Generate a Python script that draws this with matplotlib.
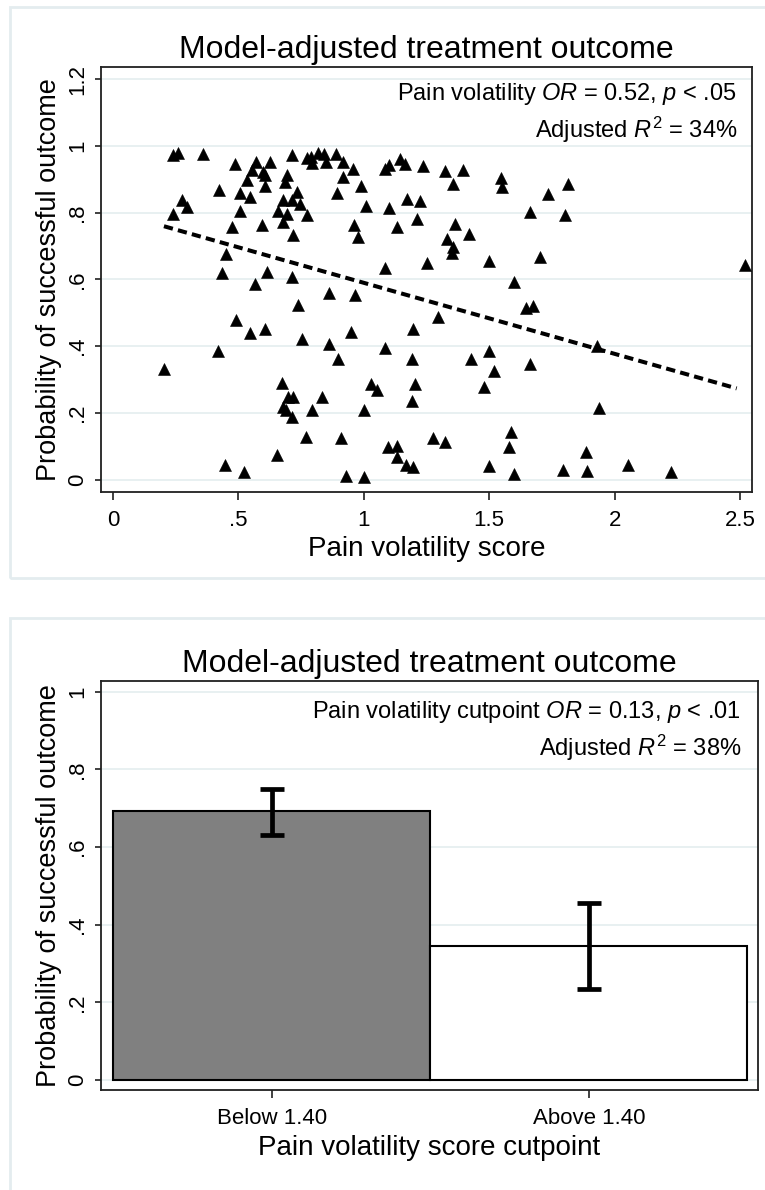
import matplotlib
matplotlib.use('Agg')
import matplotlib.pyplot as plt
from matplotlib.patches import Rectangle

plt.rcParams['font.family'] = ['Liberation Sans', 'DejaVu Sans']
plt.rcParams['mathtext.fontset'] = 'custom'
plt.rcParams['mathtext.rm'] = 'Liberation Sans'
plt.rcParams['mathtext.it'] = 'Liberation Sans:italic'

# ---------------- data ----------------
vol_x = [0.24, 0.26, 0.358, 0.485, 0.57, 0.626, 0.712, 0.772, 0.792, 0.819, 0.553, 0.600, 0.606, 0.533,
         0.693, 0.686, 0.606, 0.424, 0.506, 0.546, 0.732, 0.677, 0.712, 0.746, 0.274, 0.296, 0.238, 0.506,
         0.659, 0.695, 0.775, 0.677, 0.473, 0.593, 0.719, 0.451, 0.433, 0.613, 0.712, 0.566, 0.739,
         0.79, 0.841, 0.849, 0.889, 0.918, 0.956, 0.916, 0.988, 0.894, 1.009, 1.102, 1.171, 1.224, 1.085,
         1.102, 1.144, 1.164, 1.237, 1.324, 1.397, 1.357, 1.546, 1.552, 0.962, 0.976, 1.131, 1.211, 1.364,
         1.419, 1.330, 1.357, 1.350, 1.251, 1.499, 1.085, 1.599, 0.863, 0.965,
         1.816, 1.736, 1.663, 1.802, 1.703, 2.520, 1.645, 1.673,
         0.490, 0.546, 0.606, 0.755, 0.419, 0.203, 0.673, 0.699, 0.719, 0.677, 0.690, 0.712, 0.795, 0.768,
         0.653, 0.445, 0.524,
         1.297, 0.949, 1.197, 0.863, 1.085, 0.896, 1.191, 1.426, 1.499, 1.519, 1.479, 1.027, 1.054, 1.204,
         1.191, 0.835, 1.002, 0.909, 1.098, 1.131, 1.131, 1.168, 1.197, 1.277, 1.324, 1.499, 1.586, 1.579,
         1.600, 0.929, 1.002,
         1.929, 1.663, 1.938, 1.885, 1.795, 1.891, 2.052, 2.225]
prob_y = [0.972, 0.979, 0.975, 0.945, 0.950, 0.952, 0.972, 0.962, 0.947, 0.977, 0.927, 0.922, 0.912, 0.897,
          0.912, 0.892, 0.879, 0.867, 0.859, 0.847, 0.862, 0.837, 0.837, 0.827, 0.837, 0.817, 0.797, 0.804,
          0.804, 0.797, 0.792, 0.772, 0.757, 0.762, 0.732, 0.676, 0.620, 0.622, 0.608, 0.586, 0.523,
          0.967, 0.975, 0.952, 0.975, 0.950, 0.929, 0.905, 0.879, 0.859, 0.819, 0.815, 0.842, 0.835, 0.929,
          0.942, 0.959, 0.945, 0.939, 0.924, 0.927, 0.885, 0.904, 0.877, 0.762, 0.727, 0.757, 0.782, 0.765,
          0.735, 0.720, 0.696, 0.678, 0.650, 0.655, 0.633, 0.593, 0.558, 0.553,
          0.885, 0.857, 0.802, 0.794, 0.667, 0.643, 0.515, 0.520,
          0.478, 0.438, 0.450, 0.420, 0.386, 0.330, 0.290, 0.248, 0.246, 0.218, 0.208, 0.188, 0.208, 0.128,
          0.073, 0.043, 0.023,
          0.486, 0.441, 0.450, 0.406, 0.395, 0.360, 0.360, 0.360, 0.386, 0.325, 0.278, 0.285, 0.268, 0.286,
          0.235, 0.248, 0.208, 0.123, 0.098, 0.101, 0.068, 0.043, 0.038, 0.123, 0.113, 0.041, 0.143, 0.098,
          0.016, 0.011, 0.007,
          0.400, 0.345, 0.213, 0.083, 0.028, 0.026, 0.043, 0.022]

trend_x = [0.203, 2.487]
trend_y = [0.759, 0.273]

scatter_xticks = [0, 0.5, 1, 1.5, 2, 2.5]
scatter_xticklabels = ['0', '.5', '1', '1.5', '2', '2.5']
scatter_yticks = [0, 0.2, 0.4, 0.6, 0.8, 1.0, 1.2]
scatter_yticklabels = ['0', '.2', '.4', '.6', '.8', '1', '1.2']

bar_categories = ['Below 1.40', 'Above 1.40']
bar_values = [0.692, 0.346]
ci_low = [0.630, 0.235]
ci_high = [0.749, 0.456]
bar_colors = ['#808080', '#ffffff']
bar_yticks = [0, 0.2, 0.4, 0.6, 0.8, 1.0]
bar_yticklabels = ['0', '.2', '.4', '.6', '.8', '1']

title = 'Model-adjusted treatment outcome'
ylab = 'Probability of successful outcome'
note1_a = r'Pain volatility $\mathit{OR}$ = 0.52, $\mathit{p}$ < .05'
note2_a = r'Adjusted $\mathit{R}^{2}$ = 34%'
note1_b = r'Pain volatility cutpoint $\mathit{OR}$ = 0.13, $\mathit{p}$ < .01'
note2_b = r'Adjusted $\mathit{R}^{2}$ = 38%'

# ---------------- figure ----------------
W, H = 765, 1190
fig = plt.figure(figsize=(W / 100, H / 100), dpi=100)
fig.patch.set_facecolor('white')

frame_col = '#e4ecef'
fig.patches.append(Rectangle((10 / W, 1 - 578 / H), 1.2, (578 - 7) / H, transform=fig.transFigure,
                             fill=False, edgecolor=frame_col, lw=2.0, zorder=0))
fig.patches.append(Rectangle((10 / W, -0.1), 1.2, 0.1 + (1 - 618 / H), transform=fig.transFigure,
                             fill=False, edgecolor=frame_col, lw=2.0, zorder=0))

grid_col = '#e6eff0'
spine_col = '#202020'


def style_axes(ax):
    for s in ax.spines.values():
        s.set_color(spine_col)
        s.set_linewidth(1.3)
    ax.tick_params(axis='both', colors=spine_col, width=1.2, labelcolor='black')
    ax.tick_params(axis='x', length=6, pad=7, labelsize=16)
    ax.tick_params(axis='y', length=4.6, pad=4.5, labelsize=16)
    ax.grid(axis='y', color=grid_col, lw=1.3)
    ax.set_axisbelow(True)


# scatter panel
ax1 = fig.add_axes([101 / W, 1 - 491.7 / H, 651 / W, 425 / H])
ax1.plot(vol_x, prob_y, linestyle='none', marker='^', color='black', ms=8.2, mew=0.4, zorder=3)
ax1.plot(trend_x, trend_y, color='black', lw=2.9, dashes=(2.3, 1.3), zorder=4)
ax1.set_xlim(-0.048, 2.548)
ax1.set_ylim(-0.0365, 1.237)
ax1.set_xticks(scatter_xticks)
ax1.set_xticklabels(scatter_xticklabels)
ax1.set_yticks(scatter_yticks)
ax1.set_yticklabels(scatter_yticklabels, rotation=90, va='center')
style_axes(ax1)
ax1.set_title(title, fontsize=23, pad=6)
ax1.set_xlabel('Pain volatility score', fontsize=20, labelpad=4)
ax1.set_ylabel(ylab, fontsize=19.5, labelpad=4)
ax1.text(0.977, 0.936, note1_a, transform=ax1.transAxes, ha='right', va='center', fontsize=17)
ax1.text(0.977, 0.851, note2_a, transform=ax1.transAxes, ha='right', va='center', fontsize=17)

# bar panel
ax2 = fig.add_axes([100.7 / W, 1 - 1090 / H, 657.6 / W, 409.3 / H])
pos = list(range(len(bar_categories)))
ax2.bar(pos, bar_values, width=1.0, color=bar_colors, edgecolor='black', lw=1.5, zorder=2)
yerr = [[v - l for v, l in zip(bar_values, ci_low)], [h - v for v, h in zip(bar_values, ci_high)]]
ax2.errorbar(pos, bar_values, yerr=yerr, fmt='none', ecolor='black', elinewidth=3.4,
             capsize=8.5, capthick=3.4, zorder=3)
ax2.set_xlim(-0.54, 1.535)
ax2.set_ylim(-0.0258, 1.0284)
ax2.set_xticks(pos)
ax2.set_xticklabels(bar_categories)
ax2.set_yticks(bar_yticks)
ax2.set_yticklabels(bar_yticklabels, rotation=90, va='center')
style_axes(ax2)
ax2.set_title(title, fontsize=23, pad=6)
ax2.set_xlabel('Pain volatility score cutpoint', fontsize=20, labelpad=4)
ax2.set_ylabel(ylab, fontsize=19.5, labelpad=4)
ax2.text(0.974, 0.924, note1_b, transform=ax2.transAxes, ha='right', va='center', fontsize=17)
ax2.text(0.974, 0.836, note2_b, transform=ax2.transAxes, ha='right', va='center', fontsize=17)

fig.savefig('out.png', dpi=100, facecolor='white')
